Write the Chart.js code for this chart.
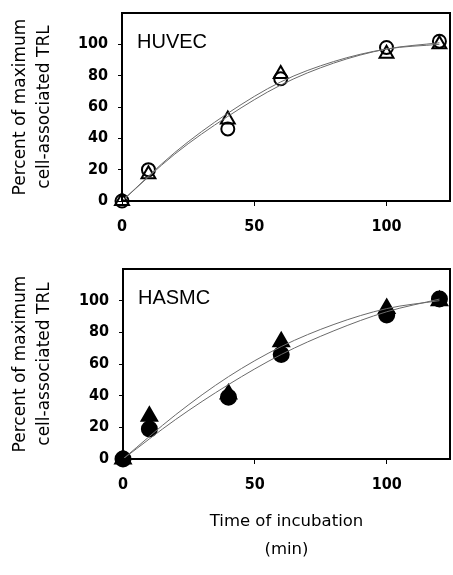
<!DOCTYPE html>
<html lang="en">
  <head>
    <meta charset="UTF-8" />
    <title>TRL uptake</title>
    <script src="https://cdn.jsdelivr.net/npm/chart.js@4"></script>
  </head>
  <style>
    * {
      margin: 0;
      padding: 0;
      box-sizing: border-box;
    }
    body {
      width: 453px;
      height: 575px;
      background: #fff;
      position: relative;
      overflow: hidden;
    }
    canvas {
      position: absolute;
      left: 0;
    }
    #top {
      top: 0;
    }
    #bottom {
      top: 250px;
    }
  </style>
  <body>
    <canvas id="top" width="453" height="245"></canvas>
    <canvas id="bottom" width="453" height="325"></canvas>
    <script>
      // measured time points (min)
      const times = [0, 10, 40, 60, 100, 120];
      const huvecCircle = [0, 20, 46, 78, 98, 102];
      const huvecTriangle = [0, 17, 52, 81, 94, 100];
      const hasmcCircle = [0, 19, 39, 66, 91, 101];
      const hasmcTriangle = [0, 27, 41, 74, 95, 100];

      // fitted curves
      const fitTimes = [0, 20, 40, 60, 80, 100, 120];
      const huvecFitCircle = [0, 30, 54, 74, 88, 97, 101];
      const huvecFitTriangle = [0, 31, 56, 76, 89, 97, 100];
      const hasmcFitCircle = [0, 25, 47, 66, 81, 93, 101];
      const hasmcFitTriangle = [0, 28, 52, 71, 85, 95, 100];

      const yTicks = [0, 20, 40, 60, 80, 100];
      const xTicks = [0, 50, 100];
      const yTitle = ["Percent of maximum", "cell-associated TRL"];
      const xTitle = ["Time of incubation", "(min)"];

      const pts = (xs, ys) => xs.map((x, i) => ({ x: x, y: ys[i] }));

      const tickFont = { family: "DejaVu Sans Condensed", weight: "bold", size: 16 };

      const frame = {
        id: "frame",
        afterDraw(chart, args, opts) {
          const { ctx, chartArea: a } = chart;
          ctx.save();
          ctx.strokeStyle = "#000";
          ctx.lineWidth = 2;
          ctx.strokeRect(a.left, a.top, a.right - a.left, a.bottom - a.top);
          ctx.fillStyle = "#000";
          ctx.font = "20px 'Liberation Sans'";
          ctx.textBaseline = "middle";
          ctx.fillText(opts.label, a.left + 15, a.top + 29);
          ctx.restore();
        },
      };

      const fitLine = (data) => ({
        type: "line",
        data: data,
        showLine: true,
        borderColor: "#6a6a6a",
        borderWidth: 1,
        pointRadius: 0,
        cubicInterpolationMode: "monotone",
        fill: false,
        clip: false,
      });

      const marker = (data, style, filled, r) => ({
        data: data,
        pointStyle: style,
        pointRadius: r,
        pointBorderWidth: 2,
        pointBorderColor: "#000",
        pointBackgroundColor: filled ? "#000" : "rgba(0,0,0,0)",
        showLine: false,
        clip: false,
      });

      function panel(id, label, leftW, padTop, xHeight, sets, showXTitle) {
        return new Chart(document.getElementById(id), {
          type: "scatter",
          data: { datasets: sets },
          plugins: [frame],
          options: {
            responsive: false,
            devicePixelRatio: 1,
            animation: false,
            layout: {
              autoPadding: false,
              padding: { left: 0, right: 3, top: padTop, bottom: 0 },
            },
            plugins: {
              legend: { display: false },
              tooltip: { enabled: false },
              frame: { label: label },
            },
            scales: {
              x: {
                type: "linear",
                min: 0,
                max: 124,
                afterBuildTicks: (s) => {
                  s.ticks = xTicks.map((v) => ({ value: v }));
                },
                afterFit: (s) => {
                  s.height = xHeight;
                  s.paddingLeft = 0;
                  s.paddingRight = 0;
                },
                ticks: {
                  color: "#000",
                  padding: 11,
                  font: tickFont,
                },
                grid: {
                  drawOnChartArea: false,
                  color: "#000",
                  tickLength: 5,
                },
                border: { color: "#000", width: 2 },
                title: {
                  display: showXTitle,
                  text: xTitle,
                  color: "#000",
                  align: "center",
                  padding: { top: 0, bottom: 11 },
                  font: { family: "DejaVu Sans", size: 16.5, lineHeight: 1.7 },
                },
              },
              y: {
                type: "linear",
                min: 0,
                max: 120,
                afterBuildTicks: (s) => {
                  s.ticks = yTicks.map((v) => ({ value: v }));
                },
                afterFit: (s) => {
                  s.width = leftW;
                  s.paddingTop = 0;
                  s.paddingBottom = 0;
                },
                ticks: {
                  color: "#000",
                  padding: 10,
                  font: tickFont,
                },
                grid: {
                  drawOnChartArea: false,
                  color: "#000",
                  tickLength: 4,
                },
                border: { color: "#000", width: 2 },
                title: {
                  display: true,
                  text: yTitle,
                  color: "#000",
                  padding: { top: 8, bottom: 0 },
                  font: { family: "DejaVu Sans", size: 17, lineHeight: 1.45 },
                },
              },
            },
          },
        });
      }

      panel("top", "HUVEC", 122, 13, 44, [
        fitLine(pts(fitTimes, huvecFitCircle)),
        fitLine(pts(fitTimes, huvecFitTriangle)),
        marker(pts(times, huvecCircle), "circle", false, 6.5),
        marker(pts(times, huvecTriangle), "triangle", false, 8),
      ], false);

      panel("bottom", "HASMC", 123, 19, 116, [
        fitLine(pts(fitTimes, hasmcFitCircle)),
        fitLine(pts(fitTimes, hasmcFitTriangle)),
        marker(pts(times, hasmcTriangle), "triangle", true, 9),
        marker(pts(times, hasmcCircle), "circle", true, 7.5),
      ], true);
    </script>
  </body>
</html>
